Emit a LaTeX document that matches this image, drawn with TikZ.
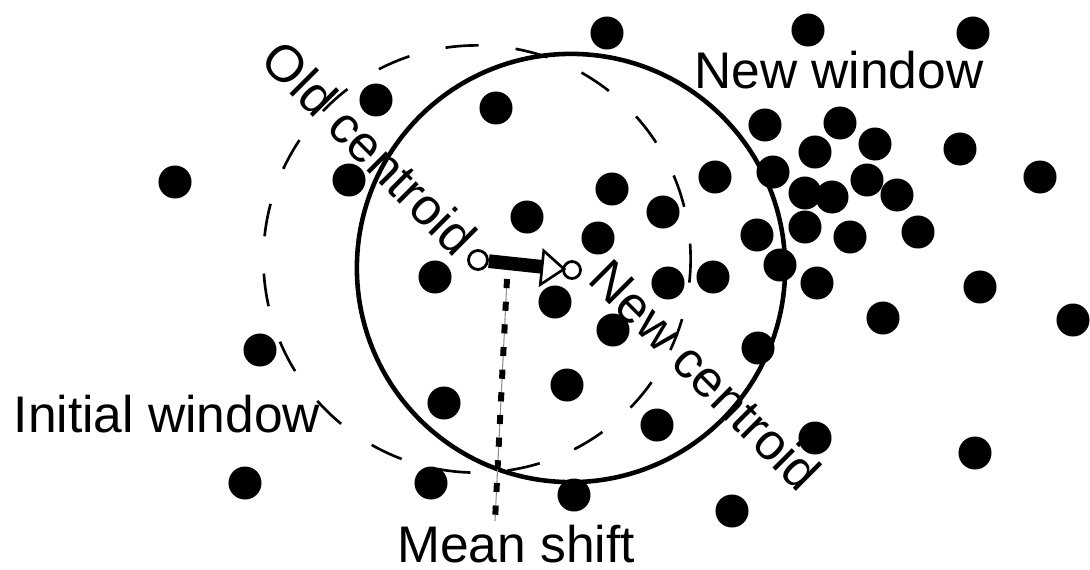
\documentclass[tikz,border=0pt]{standalone}
\usepackage{fontspec}
\setmainfont{Liberation Sans}
\usetikzlibrary{arrows.meta}
\begin{document}
\begin{tikzpicture}[x=0.01cm, y=-0.01cm,
  lbl/.style={inner sep=0pt, font=\fontsize{14.65pt}{17pt}\selectfont},
  centroid/.style={circle, draw=black, fill=white, line width=0.8pt, inner sep=0pt},
  newwin/.style={line width=1.3pt},
  oldwin/.style={line width=0.75pt, dash pattern=on 9.4pt off 10.6pt, dash phase=5pt},
  shiftline/.style={line width=1.7pt, dash pattern=on 2.6pt off 3.85pt},
  shiftbase/.style={black!45, line width=0.3pt},
  shiftbar/.style={line width=3.9pt, shorten >=0.2cm},
  shifttip/.style={fill=white, draw=black, line width=0.75pt, line join=miter}]
\useasboundingbox (0,0) rectangle (1090,569);
\coordinate (oc) at (477,259);
\coordinate (nc) at (571,268);
\draw[oldwin] (oc) circle[radius=2.135cm];
\draw[newwin] (nc) circle[radius=2.14cm];
\foreach \px/\py in {607/33,808/30,973/33,376/100,496/108,765/125,840/123,875/144,815/152,960/149,
  175/182,349/180,612/189,715/177,773/172,805/193,832/197,867/180,897/195,1040/177,
  527/217,663/212,598/238,757/235,805/227,850/237,918/232,780/265,435/277,668/283,
  713/277,817/283,980/287,555/302,613/330,883/318,1073/320,260/350,758/348,567/385,
  444/403,657/425,815/438,975/453,245/483,431/483,574/495,732/511}
  \fill (\px,\py) circle[radius=0.165cm];
\coordinate (msA) at (507,279);
\coordinate (msB) at (495,521);
\draw[shiftbase] (msA) -- (msB);
\draw[shiftline] (msA) -- (msB);
\node[centroid, minimum size=0.19cm] (old) at (478,260) {};
\node[centroid, minimum size=0.17cm] (new) at (572,270) {};
\draw[shiftbar] (old) -- (new);
\coordinate (tipA) at (543.7,250.8);
\coordinate (tipT) at (564,269);
\coordinate (tipB) at (540.3,284.6);
\draw[shifttip] (tipA) -- (tipT) -- (tipB) -- cycle;
\node[lbl, anchor=base] (newwinlbl) at (839,88) {New window};
\node[lbl, anchor=base] (initwinlbl) at (167,432) {Initial window};
\node[lbl, anchor=base] (meanshift) at (516,562) {Mean shift};
\node[lbl, rotate=-45] (oldlbl) at (370,148) {Old centroid};
\node[lbl, rotate=-45] (newlbl) at (706,375) {New centroid};
\end{tikzpicture}
\end{document}
